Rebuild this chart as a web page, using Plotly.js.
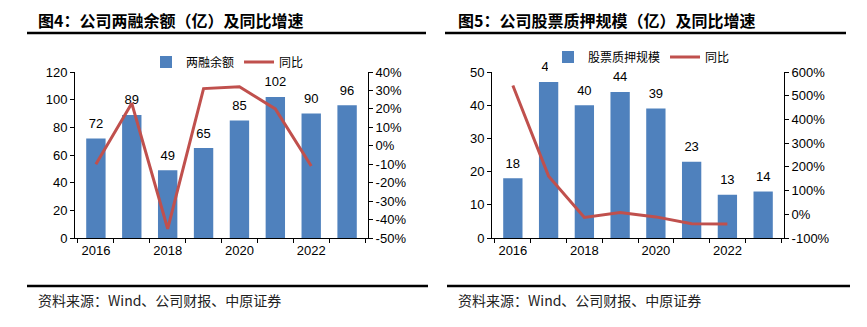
<!DOCTYPE html>
<html><head><meta charset="utf-8">
<script src="https://cdn.plot.ly/plotly-3.0.1.min.js"></script>
<style>html,body{margin:0;padding:0;background:#fff}#c{width:867px;height:327px}</style>
</head><body><div id="c"></div>
<script>
// ---- data ----
const years = ['2016','2017','2018','2019','2020','2021','2022','2023'];
const yearTickText = ['2016','','2018','','2020','','2022',''];
const marginBalance = [72, 89, 49, 65, 85, 102, 90, 96];           // 两融余额（亿）
const marginYoY = [-10, 23, -45, 31, 32, 20, -11, null];             // 同比 %
const pledgeScale = [18, 47, 40, 44, 39, 23, 13, 14];               // 股票质押规模（亿）
const pledgeYoY = [543, 161, -13, 8, -11, -40, -41, null];           // 同比 %
const leftPctTicks = [-50,-40,-30,-20,-10,0,10,20,30,40];
const rightPctTicks = [-100,0,100,200,300,400,500,600];
const title1 = '图4：公司两融余额（亿）及同比增速';
const title2 = '图5：公司股票质押规模（亿）及同比增速';
const source = '资料来源：Wind、公司财报、中原证券';

const BLUE = '#4F81BD', RED = '#C0504D';
const FONT = '"Liberation Sans", Arial, "Noto Sans CJK SC", sans-serif';
const CJK = '"Noto Sans CJK SC", sans-serif';
const W = 867, H = 327;
const px = v => v / W, py = v => 1 - v / H;

const traces = [
  {type:'bar', x:years, y:marginBalance, name:'两融余额', marker:{color:BLUE}, xaxis:'x', yaxis:'y', legend:'legend', hoverinfo:'skip'},
  {type:'scatter', mode:'lines', x:years, y:marginYoY, name:'同比', line:{color:RED, width:3}, xaxis:'x', yaxis:'y2', legend:'legend', hoverinfo:'skip'},
  {type:'scatter', mode:'markers+text', x:years, y:marginBalance, text:marginBalance.map(String), textposition:'top center',
   marker:{size:10, opacity:0}, textfont:{size:13, color:'#000', family:FONT}, xaxis:'x', yaxis:'y', showlegend:false, hoverinfo:'skip', cliponaxis:false},
  {type:'bar', x:years, y:pledgeScale, name:'股票质押规模', marker:{color:BLUE}, xaxis:'x2', yaxis:'y3', legend:'legend2', hoverinfo:'skip'},
  {type:'scatter', mode:'lines', x:years, y:pledgeYoY, name:'同比', line:{color:RED, width:3}, xaxis:'x2', yaxis:'y4', legend:'legend2', hoverinfo:'skip'},
  {type:'scatter', mode:'markers+text', x:years, y:pledgeScale, text:pledgeScale.map(String), textposition:'top center',
   marker:{size:10, opacity:0}, textfont:{size:13, color:'#000', family:FONT}, xaxis:'x2', yaxis:'y3', showlegend:false, hoverinfo:'skip', cliponaxis:false}
];

const xCommon = {type:'category', tickvals:years, ticktext:yearTickText, tickson:'boundaries', ticks:'outside', ticklen:4,
  tickangle:0, tickcolor:'#000', showline:true, linecolor:'#000', linewidth:1, showgrid:false, zeroline:false,
  tickfont:{size:13, color:'#000', family:FONT}, fixedrange:true};
const yCommon = {ticks:'outside', ticklen:4, tickcolor:'#000', showline:true, linecolor:'#000', linewidth:1,
  showgrid:false, zeroline:false, tickfont:{size:13, color:'#000', family:FONT}, fixedrange:true};
const yDom = [py(238), py(72)];

const layout = {
  width:W, height:H, margin:{l:0,r:0,t:0,b:0}, paper_bgcolor:'#fff', plot_bgcolor:'rgba(0,0,0,0)',
  showlegend:true, bargap:0.46,
  font:{family:FONT, color:'#000'},
  xaxis:Object.assign({}, xCommon, {domain:[px(75), px(368)], anchor:'y'}),
  yaxis:Object.assign({}, yCommon, {domain:yDom, range:[0,120], dtick:20, anchor:'x'}),
  yaxis2:Object.assign({}, yCommon, {overlaying:'y', side:'right', anchor:'x', range:[-50,40],
    tickvals:leftPctTicks, ticktext:leftPctTicks.map(v => v + '%')}),
  xaxis2:Object.assign({}, xCommon, {domain:[px(492), px(784)], anchor:'y3'}),
  yaxis3:Object.assign({}, yCommon, {domain:yDom, range:[0,50], dtick:10, anchor:'x2'}),
  yaxis4:Object.assign({}, yCommon, {overlaying:'y3', side:'right', anchor:'x2', range:[-100,600],
    tickvals:rightPctTicks, ticktext:rightPctTicks.map(v => v + '%')}),
  legend:{orientation:'h', x:px(146), y:py(62), xanchor:'left', yanchor:'middle', bgcolor:'#fff',
    font:{size:12, family:CJK, color:'#000'}, itemwidth:30, tracegroupgap:0},
  legend2:{orientation:'h', x:px(548), y:py(57), xanchor:'left', yanchor:'middle', bgcolor:'#fff',
    font:{size:12, family:CJK, color:'#000'}, itemwidth:30, tracegroupgap:0},
  shapes:[
    {type:'line', xref:'paper', yref:'paper', x0:px(27), x1:px(426), y0:py(33), y1:py(33), line:{color:'#000', width:2.5}},
    {type:'line', xref:'paper', yref:'paper', x0:px(445), x1:px(846), y0:py(33), y1:py(33), line:{color:'#000', width:2.5}},
    {type:'line', xref:'paper', yref:'paper', x0:px(27), x1:px(428), y0:py(286), y1:py(286), line:{color:'#000', width:2.5}},
    {type:'line', xref:'paper', yref:'paper', x0:px(447), x1:px(850), y0:py(286), y1:py(286), line:{color:'#000', width:2.5}}
  ],
  annotations:[
    {xref:'paper', yref:'paper', x:px(36), y:py(20), xanchor:'left', yanchor:'middle', showarrow:false,
     text:'<b>'+title1+'</b>', font:{size:16, family:CJK, color:'#000'}},
    {xref:'paper', yref:'paper', x:px(456), y:py(20), xanchor:'left', yanchor:'middle', showarrow:false,
     text:'<b>'+title2+'</b>', font:{size:16, family:CJK, color:'#000'}},
    {xref:'paper', yref:'paper', x:px(36), y:py(300), xanchor:'left', yanchor:'middle', showarrow:false,
     text:source, font:{size:14, family:CJK, color:'#222'}},
    {xref:'paper', yref:'paper', x:px(456), y:py(300), xanchor:'left', yanchor:'middle', showarrow:false,
     text:source, font:{size:14, family:CJK, color:'#222'}}
  ]
};

Plotly.newPlot('c', traces, layout, {staticPlot:true, displayModeBar:false});
</script></body></html>
